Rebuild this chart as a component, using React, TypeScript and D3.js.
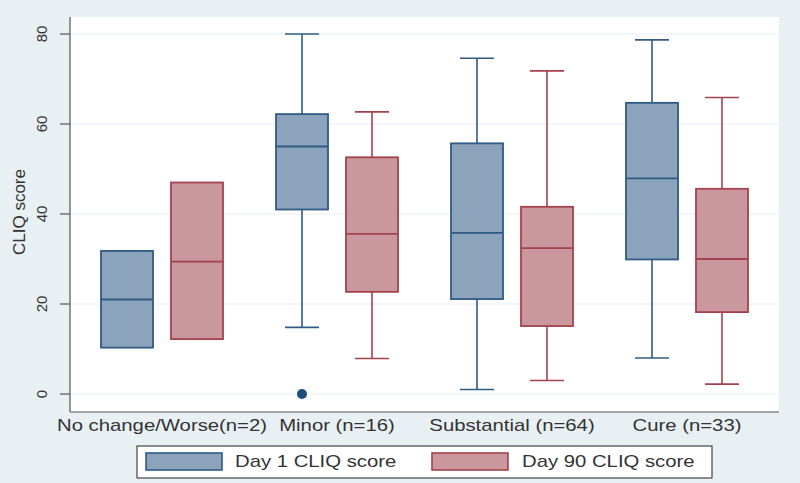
import React from "react";
import * as d3 from "d3";

const categories = ["No change/Worse(n=2)", "Minor (n=16)", "Substantial (n=64)", "Cure (n=33)"];
const seriesNames = ["Day 1 CLIQ score", "Day 90 CLIQ score"];

const day1Low = [10.3, 14.8, 1, 8];
const day1Q1 = [10.3, 41, 21.1, 29.9];
const day1Median = [21, 55, 35.8, 47.9];
const day1Q3 = [31.8, 62.2, 55.7, 64.7];
const day1High = [31.8, 80, 74.6, 78.7];

const day90Low = [12.2, 7.9, 3, 2.2];
const day90Q1 = [12.2, 22.7, 15.1, 18.2];
const day90Median = [29.4, 35.6, 32.4, 30];
const day90Q3 = [47, 52.6, 41.6, 45.6];
const day90High = [47, 62.7, 71.8, 65.9];

const outlierCategories = ["Minor (n=16)"];
const outlierSeries = ["Day 1 CLIQ score"];
const outlierValues = [0];

const yTicks = [0, 20, 40, 60, 80];

const W = 800;
const H = 483;
const fills = ["#8ba3bb", "#c9979d"];
const strokes = ["#2f5b86", "#a5424d"];
const STRETCH = 1.27;

export default function App() {
  const y = d3.scaleLinear().domain([0, 80]).range([394, 34]);
  const x = d3.scaleBand<string>().domain(categories).range([74.5, 774.5]).paddingInner(0).paddingOuter(0);
  const xs = d3.scaleBand<string>().domain(seriesNames).range([26.5, 148.5]).paddingInner(0.257).paddingOuter(0);
  const bw = xs.bandwidth();
  const capW = 34;

  const series = [
    { name: seriesNames[0], low: day1Low, q1: day1Q1, med: day1Median, q3: day1Q3, high: day1High },
    { name: seriesNames[1], low: day90Low, q1: day90Q1, med: day90Median, q3: day90Q3, high: day90High },
  ];

  const plotLeft = 70;
  const plotRight = 779;
  const plotTop = 17;
  const plotBottom = 412;

  return (
    <svg width={W} height={H} style={{ position: "absolute", left: 0, top: 0 }} fontFamily="Liberation Sans, Arial, sans-serif">
      <rect x={0} y={0} width={W} height={H} fill="#e9f0f4" />
      <rect x={plotLeft} y={plotTop} width={plotRight - plotLeft} height={plotBottom - plotTop} fill="#ffffff" />
      {yTicks.map((t) => (
        <line key={"g" + t} x1={plotLeft} x2={plotRight} y1={y(t)} y2={y(t)} stroke="#eaf0f4" strokeWidth={1.2} />
      ))}
      {/* axes */}
      <line x1={plotLeft} x2={plotLeft} y1={plotTop} y2={plotBottom} stroke="#555" strokeWidth={1.2} />
      <line x1={plotLeft} x2={plotRight} y1={plotBottom} y2={plotBottom} stroke="#555" strokeWidth={1.2} />
      {yTicks.map((t) => (
        <g key={"t" + t}>
          <line x1={plotLeft - 10} x2={plotLeft} y1={y(t)} y2={y(t)} stroke="#555" strokeWidth={1.2} />
          <text
            transform={`translate(47,${y(t)}) rotate(-90)`}
            textAnchor="middle"
            fontSize={15}
            fill="#333"
          >
            {t}
          </text>
        </g>
      ))}
      <text transform={`translate(25,212) rotate(-90)`} textAnchor="middle" fontSize={17} fill="#333">
        CLIQ score
      </text>
      {/* boxes */}
      {categories.map((c, i) => (
        <g key={c}>
          {series.map((s, si) => {
            const x0 = (x(c) as number) + (xs(s.name) as number);
            const cx = x0 + bw / 2;
            const st = strokes[si];
            return (
              <g key={s.name}>
                {s.high[i] > s.q3[i] && (
                  <>
                    <line x1={cx} x2={cx} y1={y(s.q3[i])} y2={y(s.high[i])} stroke={st} strokeWidth={1.6} />
                    <line x1={cx - capW / 2} x2={cx + capW / 2} y1={y(s.high[i])} y2={y(s.high[i])} stroke={st} strokeWidth={1.6} />
                  </>
                )}
                {s.low[i] < s.q1[i] && (
                  <>
                    <line x1={cx} x2={cx} y1={y(s.q1[i])} y2={y(s.low[i])} stroke={st} strokeWidth={1.6} />
                    <line x1={cx - capW / 2} x2={cx + capW / 2} y1={y(s.low[i])} y2={y(s.low[i])} stroke={st} strokeWidth={1.6} />
                  </>
                )}
                <rect
                  x={x0}
                  y={y(s.q3[i])}
                  width={bw}
                  height={y(s.q1[i]) - y(s.q3[i])}
                  fill={fills[si]}
                  stroke={st}
                  strokeWidth={1.8}
                />
                <line x1={x0} x2={x0 + bw} y1={y(s.med[i])} y2={y(s.med[i])} stroke={st} strokeWidth={1.8} />
              </g>
            );
          })}
        </g>
      ))}
      {outlierValues.map((v, k) => {
        const c = outlierCategories[k];
        const sname = outlierSeries[k];
        const si = seriesNames.indexOf(sname);
        const cx = (x(c) as number) + (xs(sname) as number) + bw / 2;
        return <circle key={"o" + k} cx={cx} cy={y(v)} r={5} fill={si === 0 ? "#1f4e7c" : "#8a2a35"} />;
      })}
      {/* x labels */}
      {categories.map((c) => (
        <text
          key={"xl" + c}
          transform={`translate(${(x(c) as number) + x.bandwidth() / 2},431) scale(${STRETCH},1)`}
          textAnchor="middle"
          fontSize={16}
          fill="#333"
        >
          {c}
        </text>
      ))}
      {/* legend */}
      <rect x={137} y={446} width={575} height={32} fill="#ffffff" stroke="#444" strokeWidth={1.2} />
      {seriesNames.map((n, si) => {
        const sx = si === 0 ? 146 : 432;
        const tx = si === 0 ? 235 : 522;
        return (
          <g key={"lg" + n}>
            <rect x={sx} y={453} width={76} height={17} fill={fills[si]} stroke={strokes[si]} strokeWidth={1.6} />
            <text transform={`translate(${tx},467) scale(${STRETCH},1)`} fontSize={16} fill="#333">
              {n}
            </text>
          </g>
        );
      })}
    </svg>
  );
}
